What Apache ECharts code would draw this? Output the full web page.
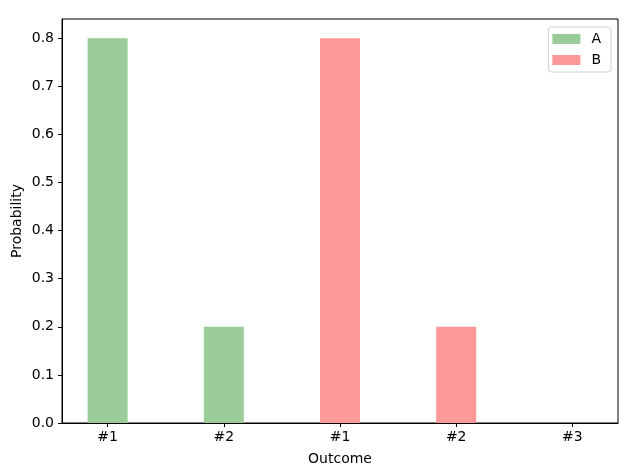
<!DOCTYPE html>
<html>
<head>
<meta charset="UTF-8">
<script src="https://cdn.jsdelivr.net/npm/echarts@6/dist/echarts.min.js"></script>
<style>
  body { margin: 0; background: #fff; }
  #chart { width: 634px; height: 466px; }
</style>
</head>
<body>
<div id="chart"></div>
<script>
// outcome tick labels, one per bar slot
const outcomeLabels = ['#1', '#2', '#1', '#2', '#3']
const outcomePos = [0, 1, 2, 3, 4]

// probabilities per series: [slot, value]
const seriesA = [[0, 0.8], [1, 0.2]]
const seriesB = [[2, 0.8], [3, 0.2], [4, 0.0]]

const yTicks = [0, 0.1, 0.2, 0.3, 0.4, 0.5, 0.6, 0.7, 0.8]

const FONT = 'DejaVu Sans'
const chart = echarts.init(document.getElementById('chart'))

chart.setOption({
  animation: false,
  textStyle: { fontFamily: FONT },
  grid: {
    left: 62, right: 16, top: 19, bottom: 43,
    outerBoundsMode: 'none', containLabel: false,
    show: true, borderColor: '#000', borderWidth: 1, backgroundColor: 'transparent'
  },
  legend: {
    right: 23, top: 27,
    orient: 'vertical',
    itemWidth: 28, itemHeight: 10, itemGap: 7,
    padding: [5, 10, 5, 4],
    borderColor: '#d0d0d0', borderWidth: 1, borderRadius: 3,
    textStyle: { fontSize: 14, color: '#000', fontFamily: FONT, padding: [0, 0, 0, 6] },
    data: [
      { name: 'A', icon: 'rect' },
      { name: 'B', icon: 'rect' }
    ]
  },
  xAxis: {
    type: 'value',
    min: -0.3925, max: 4.3925,
    name: 'Outcome', nameLocation: 'middle', nameGap: 29, nameMoveOverlap: false,
    nameTextStyle: { fontSize: 14, color: '#000', fontFamily: FONT },
    splitLine: { show: false },
    axisLine: { show: true, onZero: false, lineStyle: { color: '#000', width: 1 } },
    axisTick: { show: true, length: 4, lineStyle: { color: '#000' }, customValues: outcomePos },
    axisLabel: {
      customValues: outcomePos,
      fontSize: 14, color: '#000', margin: 7,
      formatter: v => outcomeLabels[Math.round(v)]
    }
  },
  yAxis: {
    type: 'value',
    min: 0, max: 0.84,
    name: 'Probability', nameLocation: 'middle', nameGap: 38, nameMoveOverlap: false,
    nameTextStyle: { fontSize: 14, color: '#000', fontFamily: FONT },
    splitLine: { show: false },
    axisLine: { show: true, onZero: false, lineStyle: { color: '#000', width: 1 } },
    axisTick: { show: true, length: 4, lineStyle: { color: '#000' }, customValues: yTicks },
    axisLabel: {
      customValues: yTicks,
      fontSize: 14, color: '#000', margin: 8,
      formatter: v => v.toFixed(1)
    }
  },
  series: [
    {
      name: 'A', type: 'bar', data: seriesA,
      barWidth: 40, barGap: '-100%',
      itemStyle: { color: '#99cc99' }
    },
    {
      name: 'B', type: 'bar', data: seriesB,
      barWidth: 40, barGap: '-100%',
      itemStyle: { color: '#ff9999' }
    }
  ]
})
</script>
</body>
</html>
